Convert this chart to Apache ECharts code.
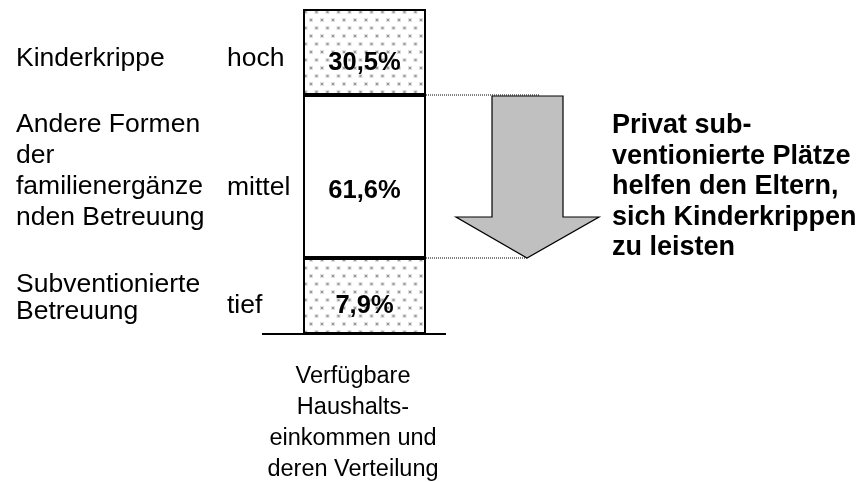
<!DOCTYPE html>
<html>
<head>
<meta charset="utf-8">
<script src="https://cdn.jsdelivr.net/npm/echarts@6/dist/echarts.min.js"></script>
<style>
  html, body { margin: 0; padding: 0; background: #fff; }
  #chart { width: 858px; height: 482px; }
</style>
</head>
<body>
<div id="chart"></div>
<script>
// one stacked column, bottom to top
const categories = ['Verfügbare Haushaltseinkommen'];
const segmentNames = ['Subventionierte\nBetreuung', 'Andere Formen\nder\nfamilienergänze\nnden Betreuung', 'Kinderkrippe'];
const incomeLevels = ['tief', 'mittel', 'hoch'];
const shares = [7.9, 61.6, 30.5];
// schematic block heights (not proportional to shares in the original)
const segmentHeights = [76, 163, 86];
const arrowText = 'Privat sub-\nventionierte Plätze\nhelfen den Eltern,\nsich Kinderkrippen\nzu leisten';
const axisTitle = 'Verfügbare\nHaushalts-\neinkommen und\nderen Verteilung';

const FONT = '"Liberation Sans", Arial, sans-serif';

function dotPattern() {
  const c = document.createElement('canvas');
  c.width = 11;
  c.height = 16;
  const ctx = c.getContext('2d');
  ctx.fillStyle = '#fff';
  ctx.fillRect(0, 0, 11, 16);
  const dot = (x, y) => {
    ctx.fillStyle = '#dedede';
    ctx.fillRect(x - 1, y - 1, 4, 4);
    ctx.fillStyle = '#9a9a9a';
    ctx.fillRect(x, y, 2, 2);
  };
  dot(2, 3);
  dot(7.5, 11);
  return c;
}

const pattern = { image: dotPattern(), repeat: 'repeat' };
const fills = [pattern, '#ffffff', pattern];
const labelShift = [10, 14, 11];

const chart = echarts.init(document.getElementById('chart'), null, { renderer: 'canvas' });

const total = segmentHeights.reduce((a, b) => a + b, 0);

const series = segmentHeights.map((h, i) => ({
  name: segmentNames[i],
  type: 'bar',
  stack: 'total',
  barWidth: '100%',
  data: [h],
  itemStyle: { color: fills[i], borderColor: '#000', borderWidth: 2 },
  label: {
    show: true,
    position: 'inside',
    offset: [0, labelShift[i]],
    formatter: () => shares[i].toFixed(1).replace('.', ',') + '%',
    color: '#000',
    fontFamily: FONT,
    fontWeight: 'bold',
    fontSize: 25.5
  },
  silent: true,
  animation: false
}));

chart.setOption({
  animation: false,
  grid: { left: 303, width: 123, top: 9, height: 325 },
  xAxis: {
    type: 'category',
    data: categories,
    axisLine: { show: false },
    axisTick: { show: false },
    axisLabel: { show: false }
  },
  yAxis: {
    type: 'value',
    min: 0,
    max: total,
    show: false
  },
  series: series
});

// annotations positioned from the bar's scale
const px = v => chart.convertToPixel({ gridIndex: 0 }, [0, v])[1];
const yBottom = px(0);
const yLow = px(segmentHeights[0]);
const yHigh = px(segmentHeights[0] + segmentHeights[1]);
const barRight = 426;

const textStyle = (extra) => Object.assign({
  fontFamily: FONT,
  fontSize: 26.5,
  fill: '#000'
}, extra);

// vertical centre of each left-hand label block / level word
const nameY = [298.5, 171.5, 59];
const levelY = [306, 188, 59];
const lineHeights = [27, 31, 31];

const graphic = [];
segmentNames.forEach((name, i) => {
  graphic.push({
    type: 'text',
    style: textStyle({ text: name, x: 16, y: nameY[i], verticalAlign: 'middle', lineHeight: lineHeights[i] })
  });
  graphic.push({
    type: 'text',
    style: textStyle({ text: incomeLevels[i], x: 227, y: levelY[i], verticalAlign: 'middle' })
  });
});

graphic.push(
  {
    type: 'line',
    shape: { x1: 262, y1: yBottom, x2: 446, y2: yBottom },
    style: { stroke: '#000', lineWidth: 2 }
  },
  {
    type: 'line',
    shape: { x1: barRight, y1: yHigh, x2: 539, y2: yHigh },
    style: { stroke: '#000', lineWidth: 1, lineDash: [1, 1] }
  },
  {
    type: 'line',
    shape: { x1: barRight, y1: yLow, x2: 527, y2: yLow },
    style: { stroke: '#000', lineWidth: 1, lineDash: [1, 1] }
  },
  {
    type: 'polygon',
    shape: {
      points: [
        [492, yHigh + 1], [563, yHigh + 1], [563, 217], [599, 217],
        [527, yLow], [456, 217], [492, 217]
      ]
    },
    style: { fill: '#c0c0c0', stroke: '#000', lineWidth: 1.2 }
  },
  {
    type: 'text',
    style: textStyle({ text: arrowText, x: 612, y: 187, verticalAlign: 'middle', fontWeight: 'bold', fontSize: 27, lineHeight: 30.5 })
  },
  {
    type: 'text',
    style: textStyle({ text: axisTitle, x: 353, y: 423, align: 'center', verticalAlign: 'middle', fontSize: 23.5, lineHeight: 31 })
  }
);

chart.setOption({ graphic: graphic });
</script>
</body>
</html>
